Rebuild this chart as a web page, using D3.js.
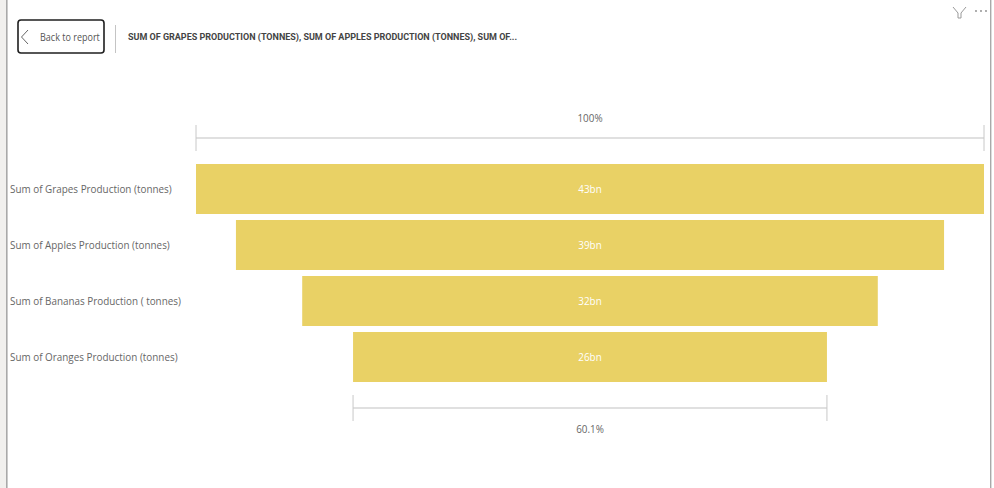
<!DOCTYPE html>
<html>
<head>
<meta charset="utf-8">
<script src="https://cdn.jsdelivr.net/npm/d3@7"></script>
<style>
  html, body { margin: 0; padding: 0; background: #fff; overflow: hidden; }
  svg { display: block; }
  text { font-family: "Open Sans", sans-serif; }
  text.title { font-family: "Liberation Sans Narrow", "Roboto", sans-serif; font-weight: 700; }
</style>
</head>
<body>
<svg id="chart" width="994" height="488"></svg>
<script>
const categories = [
  "Sum of Grapes Production (tonnes)",
  "Sum of Apples Production (tonnes)",
  "Sum of Bananas Production ( tonnes)",
  "Sum of Oranges Production (tonnes)",
];
const values = [43.4, 39.0, 31.7, 26.1];
const titleText =
  "SUM OF GRAPES PRODUCTION (TONNES), SUM OF APPLES PRODUCTION (TONNES), SUM OF...";

const svg = d3.select("#chart");
const barColor = "#e9d165";
const ruleColor = "#c8c8c8";
const textColor = "#666666";

const maxVal = d3.max(values);
const minVal = d3.min(values);
const cx = 590;

// funnel bars are centred, so width comes from the scale
const w = d3.scaleLinear().domain([0, maxVal]).range([0, 788]);
const y = d3.scaleBand().domain(categories).range([164, 382]).paddingInner(6 / 56);

// the reference text is squeezed sideways, so labels go through this
const squeezed = (sel, px, py, sx = 0.86) =>
  sel.attr("transform", `translate(${px},${py}) scale(${sx},1)`);

// panel borders
svg.append("rect").attr("x", 0).attr("y", 0).attr("width", 6).attr("height", 488).attr("fill", "#f1f0ee");
svg.append("rect").attr("x", 6).attr("y", 0).attr("width", 1.6).attr("height", 488).attr("fill", "#a9a9a9");
svg.append("rect").attr("x", 990).attr("y", 0).attr("width", 1.4).attr("height", 488).attr("fill", "#a9a9a9");

// header
svg.append("rect")
  .attr("x", 18).attr("y", 20).attr("width", 86).attr("height", 33).attr("rx", 3)
  .attr("fill", "#fff").attr("stroke", "#1f1f1f").attr("stroke-width", 1.6);
svg.append("path")
  .attr("d", d3.line()([[28, 30], [21.5, 37], [28, 44]]))
  .attr("fill", "none").attr("stroke", "#666").attr("stroke-width", 1);
svg.append("text").attr("font-size", 10.5).attr("fill", "#555")
  .text("Back to report").call(squeezed, 40, 41);
svg.append("line").attr("x1", 115.5).attr("x2", 115.5).attr("y1", 25).attr("y2", 53)
  .attr("stroke", "#c4c4c4");
svg.append("text").attr("class", "title").attr("x", 128).attr("y", 39.5)
  .attr("font-size", 9).attr("fill", "#444")
  .attr("textLength", 389).attr("lengthAdjust", "spacing")
  .text(titleText);

// filter + more icons
svg.append("path")
  .attr("d", "M953 7 L958 13 L958 18 L961 18 L961 13 L966 7")
  .attr("fill", "none").attr("stroke", "#999").attr("stroke-width", 1);
svg.selectAll("circle.dot").data([976, 981, 986]).join("circle")
  .attr("class", "dot").attr("cx", (d) => d).attr("cy", 11).attr("r", 0.9).attr("fill", "#888");

// bars
svg.selectAll("rect.bar").data(values).join("rect")
  .attr("class", "bar")
  .attr("x", (d) => cx - w(d) / 2)
  .attr("y", (d, i) => y(categories[i]))
  .attr("width", (d) => w(d))
  .attr("height", y.bandwidth())
  .attr("fill", barColor);

svg.selectAll("text.val").data(values).join("text")
  .attr("class", "val")
  .attr("text-anchor", "middle")
  .attr("font-size", 11.5)
  .attr("fill", "#fff")
  .text((d) => `${Math.round(d)}bn`)
  .each(function (d, i) {
    d3.select(this).call(squeezed, cx, y(categories[i]) + y.bandwidth() / 2 + 4);
  });

svg.selectAll("text.cat").data(categories).join("text")
  .attr("class", "cat")
  .attr("font-size", 11.5)
  .attr("fill", textColor)
  .text((d) => d)
  .each(function (d) {
    d3.select(this).call(squeezed, 10, y(d) + y.bandwidth() / 2 + 4);
  });

// percentage brackets
function bracket(val, lineY, label, labelY) {
  const half = w(val) / 2;
  svg.append("line").attr("x1", cx - half).attr("x2", cx + half)
    .attr("y1", lineY).attr("y2", lineY)
    .attr("stroke", "#d6d6d6").attr("stroke-width", 1.4);
  [cx - half, cx + half].forEach((px) => {
    svg.append("line").attr("x1", px).attr("x2", px)
      .attr("y1", lineY - 13).attr("y2", lineY + 13)
      .attr("stroke", ruleColor).attr("stroke-width", 1);
  });
  svg.append("text")
    .attr("text-anchor", "middle").attr("font-size", 11.5)
    .attr("fill", textColor).text(label).call(squeezed, cx, labelY);
}
const pct = d3.format(".1f");
bracket(maxVal, 138, "100%", 122);
bracket(minVal, 408, `${pct((minVal / maxVal) * 100)}%`, 433);
</script>
</body>
</html>
